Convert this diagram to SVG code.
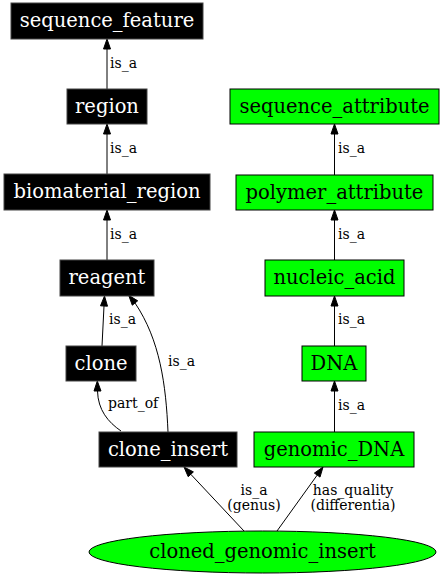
<svg xmlns="http://www.w3.org/2000/svg" width="443" height="576" viewBox="0 0 443 576">
<style>
.bk rect{fill:#000;stroke:#444;stroke-width:1}
.gr rect,.gr ellipse{fill:#00ff00;stroke:#000;stroke-width:1}
.nt{font-family:"DejaVu Serif",serif;font-size:19.5px;text-anchor:middle}
.bk text{fill:#fff}
.gr text{fill:#000}
.edges path{fill:none;stroke:#000;stroke-width:1}
.edges polygon{fill:#000;stroke:#000;stroke-width:1}
.el{font-family:"DejaVu Serif",serif;font-size:14px;fill:#000}
.mid{text-anchor:middle}
</style>
<rect width="443" height="576" fill="#fff"/>
<g class="edges" id="edges">
<path d="M107,89 L107,49"/><polygon points="103.5,49 107,39 110.5,49"/>
<path d="M107,174 L107,134"/><polygon points="103.5,134 107,124 110.5,134"/>
<path d="M107,260 L107,220"/><polygon points="103.5,220 107,210 110.5,220"/>
<path d="M102,346 L104,306"/><polygon points="100.5,305.8 104.5,296 107.5,306.2"/>
<path d="M168,432 C166,385 160,340 135,303"/><polygon points="137.7,300.8 128.7,295.3 132.3,305.2"/>
<path d="M121,431 C108,422 98,410 97.5,391"/><polygon points="94,391 97.3,381 101,391"/>
<path d="M334.5,175 L334.5,134"/><polygon points="331,134 334.5,124 338,134"/>
<path d="M334.5,260 L334.5,220"/><polygon points="331,220 334.5,210 338,220"/>
<path d="M334.5,346 L334.5,306"/><polygon points="331,306 334.5,296 338,306"/>
<path d="M334.5,432 L334.5,391"/><polygon points="331,391 334.5,381 338,391"/>
<path d="M244,531 L190.8,474.3"/><polygon points="193.4,471.9 184,467 188.2,476.7"/>
<path d="M277,531 L317.2,475.1"/><polygon points="320,477.1 323,467 314.4,473.1"/>
<text class="el" x="110" y="68">is_a</text>
<text class="el" x="110" y="153">is_a</text>
<text class="el" x="110" y="239">is_a</text>
<text class="el" x="109" y="324">is_a</text>
<text class="el" x="168" y="366">is_a</text>
<text class="el" x="108" y="408">part_of</text>
<text class="el" x="338" y="153">is_a</text>
<text class="el" x="338" y="239">is_a</text>
<text class="el" x="338" y="324">is_a</text>
<text class="el" x="338" y="410">is_a</text>
<text class="el mid" x="254" y="494.5">is_a</text>
<text class="el mid" x="254" y="509.5">(genus)</text>
<text class="el mid" x="353" y="494.5">has_quality</text>
<text class="el mid" x="353" y="509.5">(differentia)</text>
</g>
<g id="sequence_feature" class="bk"><rect x="11" y="3" width="192" height="36"/><text class="nt" x="107" y="27">sequence_feature</text></g>
<g id="region" class="bk"><rect x="67" y="89" width="80" height="35"/><text class="nt" x="107" y="112.5">region</text></g>
<g id="biomaterial_region" class="bk"><rect x="4" y="174" width="206" height="36"/><text class="nt" x="107" y="198">biomaterial_region</text></g>
<g id="reagent" class="bk"><rect x="60" y="260" width="94" height="36"/><text class="nt" x="107" y="284">reagent</text></g>
<g id="clone" class="bk"><rect x="66" y="346" width="70" height="35"/><text class="nt" x="101" y="369.5">clone</text></g>
<g id="clone_insert" class="bk"><rect x="99" y="432" width="138" height="35"/><text class="nt" x="168" y="455.5">clone_insert</text></g>
<g id="sequence_attribute" class="gr"><rect x="230" y="89" width="209" height="35"/><text class="nt" x="334.5" y="112.5">sequence_attribute</text></g>
<g id="polymer_attribute" class="gr"><rect x="236" y="175" width="197" height="35"/><text class="nt" x="334.5" y="198.5">polymer_attribute</text></g>
<g id="nucleic_acid" class="gr"><rect x="265" y="260" width="139" height="36"/><text class="nt" x="334.5" y="284">nucleic_acid</text></g>
<g id="DNA" class="gr"><rect x="302" y="346" width="64" height="35"/><text class="nt" x="334" y="369.5">DNA</text></g>
<g id="genomic_DNA" class="gr"><rect x="254" y="432" width="160" height="35"/><text class="nt" x="334" y="455.5">genomic_DNA</text></g>
<g id="cloned_genomic_insert" class="gr"><ellipse cx="262.5" cy="552" rx="173.5" ry="21"/><text class="nt" x="262.5" y="558">cloned_genomic_insert</text></g>
</svg>
